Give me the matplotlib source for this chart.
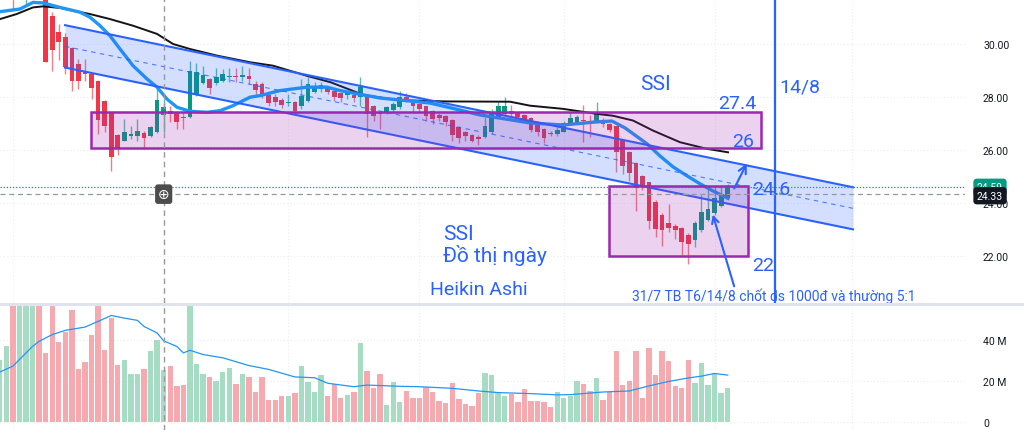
import matplotlib
matplotlib.use("Agg")
import matplotlib.pyplot as plt
import matplotlib.patches as patches
import matplotlib.transforms as mtransforms
import numpy as np

plt.rcParams['font.family'] = ['Roboto', 'DejaVu Sans']

# Heikin Ashi candles (SSI, daily)
ha_open = [31.9, 32.1, 32.3, 32.1, 32.3, 32.5, 32.8, 32.5, 31.07, 30.44,
           30.25, 29.84, 29.25, 28.93, 28.87, 28.62, 27.86, 27.42, 26.57, 26.33,
           26.54, 26.54, 26.64, 26.52, 26.69, 27.32, 27.46, 27.40, 27.26, 27.23,
           28.11, 28.52, 28.68, 28.52, 28.62, 28.74, 28.77, 28.77, 28.80, 28.49,
           28.49, 28.08, 28.01, 27.90, 27.77, 27.82, 27.65, 27.86, 28.20, 28.30,
           28.37, 28.24, 28.14, 28.09, 28.08, 27.99, 27.99, 27.67, 27.42, 27.40,
           27.52, 27.61, 28.01, 27.80, 27.74, 27.65, 27.46, 27.32, 27.27, 27.14,
           26.86, 26.67, 26.58, 26.48, 26.48, 26.67, 27.23, 27.36, 27.48, 27.40,
           27.32, 27.20, 26.98, 26.79, 26.64, 26.60, 26.69, 26.98, 27.02, 27.11,
           27.08, 27.04, 27.14, 26.99, 26.89, 26.39, 25.91, 25.51, 25.01, 24.78,
           24.05, 23.55, 23.25, 23.14, 23.04, 22.79, 22.58, 22.96, 23.37, 23.62,
           23.90, 24.18]
ha_high = [32.5, 32.7, 32.6, 32.8, 33.0, 33.3, 33.0, 32.6, 31.2, 30.75,
           30.4, 29.9, 29.45, 29.43, 28.9, 28.65, 27.9, 27.42, 26.6, 27.17,
           26.92, 27.17, 26.7, 26.92, 28.30, 27.92, 27.67, 27.45, 27.42, 29.37,
           29.3, 29.18, 28.7, 29.08, 29.05, 29.08, 29.1, 29.18, 29.1, 28.62,
           28.55, 28.1, 28.12, 27.95, 28.11, 27.85, 28.68, 28.74, 28.55, 28.55,
           28.4, 28.28, 28.16, 28.24, 28.2, 28.74, 28.05, 27.7, 27.45, 27.65,
           27.8, 28.21, 28.15, 27.85, 27.76, 27.66, 27.5, 27.4, 27.3, 27.15,
           26.9, 26.7, 26.6, 26.55, 27.23, 27.55, 27.80, 27.99, 27.68, 27.45,
           27.35, 27.25, 27.0, 26.82, 26.72, 26.86, 27.10, 27.42, 27.30, 27.70,
           27.3, 27.80, 27.2, 27.0, 26.9, 26.4, 25.95, 25.55, 25.05, 24.8,
           24.1, 23.6, 23.96, 23.2, 23.1, 22.85, 23.3, 24.28, 24.53, 24.65,
           24.65, 24.72]
ha_low = [31.8, 31.9, 31.32, 31.9, 31.51, 32.3, 31.9, 29.31, 28.99, 29.40,
          28.87, 28.21, 28.30, 28.62, 27.92, 26.6, 26.68, 25.19, 25.79, 26.33,
          26.42, 26.35, 26.04, 26.5, 26.65, 26.68, 27.04, 26.79, 26.79, 27.2,
          28.05, 28.5, 28.11, 28.45, 28.55, 28.55, 28.55, 28.62, 28.5, 28.09,
          27.95, 27.67, 27.67, 27.6, 27.67, 27.32, 27.55, 27.8, 28.15, 28.2,
          28.1, 27.86, 27.8, 27.93, 27.8, 27.67, 26.48, 27.11, 26.79, 27.35,
          27.4, 27.55, 27.8, 27.45, 27.42, 27.11, 26.98, 27.1, 26.92, 26.35,
          26.26, 26.35, 26.3, 26.19, 26.45, 26.6, 27.2, 27.3, 27.2, 27.1,
          27.05, 26.66, 26.54, 26.26, 26.54, 26.54, 26.66, 26.95, 27.0, 26.31,
          26.48, 27.0, 26.85, 26.66, 25.16, 25.09, 24.84, 23.71, 24.5, 23.02,
          22.70, 22.39, 22.9, 22.64, 22.04, 21.70, 22.35, 22.9, 23.3, 23.55,
          23.85, 24.1]
ha_close = [32.3, 32.5, 31.9, 32.6, 32.8, 33.1, 32.3, 29.31, 29.77, 30.06,
            29.12, 28.62, 28.60, 28.87, 28.33, 27.14, 26.92, 25.75, 26.06, 26.67,
            26.60, 26.70, 26.44, 26.86, 27.90, 27.61, 27.36, 27.04, 27.22, 28.99,
            28.93, 28.83, 28.34, 28.74, 28.86, 28.78, 28.75, 28.82, 28.66, 28.28,
            28.08, 27.77, 27.80, 27.71, 27.80, 27.46, 28.05, 28.49, 28.43, 28.45,
            28.20, 27.99, 27.95, 28.14, 27.95, 28.37, 27.36, 27.27, 27.36, 27.61,
            27.74, 27.99, 27.92, 27.65, 27.55, 27.27, 27.17, 27.20, 27.04, 26.57,
            26.44, 26.52, 26.35, 26.42, 26.89, 27.42, 27.65, 27.65, 27.36, 27.23,
            27.17, 26.77, 26.67, 26.44, 26.60, 26.77, 27.01, 27.22, 27.25, 27.08,
            27.02, 27.35, 26.98, 26.77, 25.94, 25.38, 25.13, 24.55, 24.63, 23.30,
            23.02, 22.96, 23.04, 22.99, 22.54, 22.43, 23.23, 23.67, 23.77, 24.18,
            24.34, 24.59]

# volume, millions of shares
volume = [30.4, 37.2, 60, 62, 66, 64, 61, 33.7, 60, 39,
          43.9, 55, 25.9, 29.4, 42.6, 62, 35, 50.9, 28, 30.4,
          23.4, 23.4, 25.9, 34.5, 40.2, 25.2, 27.2, 17.6, 17.9, 60,
          28.6, 23.4, 21.8, 20, 24.2, 26.2, 18.5, 23.4, 21.8, 14.8,
          22.1, 10.7, 10.7, 12.4, 12.7, 14, 27.6, 19.5, 14.8, 23.1,
          12.4, 18.7, 11.7, 13, 14.8, 38.5, 24.7, 16.6, 23.4, 8.3,
          19.3, 9.9, 15.1, 11.5, 11.5, 16.9, 14.8, 10.2, 9.1, 18.9,
          11.2, 8.8, 7.5, 14, 24.1, 23.1, 14.8, 12.5, 13.7, 9.6,
          16.3, 10.2, 10.2, 9.6, 7, 14.6, 11.7, 12.8, 19.8, 18.4,
          15, 21.6, 10.6, 14.6, 34.8, 17.9, 19.8, 34.5, 11.5, 36.3,
          23.1, 34.5, 29.6, 17.6, 16.4, 30.4, 18.9, 28.9, 17.9, 24.1,
          14, 16.4]

# volume moving average (read at bar positions)
vol_ma_bar = [0, 2, 5, 6, 8, 10, 13, 15, 17, 19, 21, 22, 24, 25, 27, 28, 29, 31,
              34, 38, 41, 45, 48, 50, 54, 56, 61, 64, 69, 73, 76, 81, 85, 87, 92,
              96, 99, 102, 105, 107, 109, 111]
vol_ma = [24.4, 27.3, 37, 39.5, 42.8, 44.9, 46.5, 49.3, 52.2, 50.9, 49.8, 46.8,
          43.6, 39.7, 37, 33.8, 35.1, 33, 31.4, 27.6, 25.7, 22, 21.6, 18.9, 17.2,
          18, 17.4, 17.2, 16.4, 15.1, 14.3, 13.8, 13.2, 13.3, 14.6, 15.1, 17.6,
          19.8, 21.5, 22.4, 23.7, 22.9]

# price moving averages (fast: light blue, slow: black)
ma_fast_bar = [0.04, 3.09, 5.07, 6.59, 9.19, 12.24, 13.76, 15.29, 16.81, 18.34,
               20.32, 22.45, 23.98, 25.5, 27.03, 29.01, 31.6, 33.59, 35.57, 38.16,
               39.68, 42.73, 46.85, 49.9, 51.88, 55.39, 57.98, 65.61, 69.42, 73.23,
               80.86, 85.89, 91.07, 93.36, 95.34, 98.7, 100.68, 102.66, 104.8,
               106.78, 108.76, 111.05]
ma_fast = [31.22, 31.32, 31.57, 31.55, 31.38, 31.20, 31.01, 30.69, 30.31, 29.81,
           29.18, 28.68, 28.37, 27.92, 27.61, 27.46, 27.42, 27.48, 27.67, 27.99,
           28.05, 28.24, 28.37, 28.37, 28.24, 28.08, 27.96, 27.77, 27.55, 27.32,
           27.02, 26.94, 27.06, 27.09, 26.83, 26.23, 25.77, 25.36, 25.02, 24.72,
           24.45, 24.17]
ma_slow_bar = [0.04, 2.58, 5.07, 6.59, 9.19, 11.17, 13.76, 16.81, 20.32, 23.98,
               26.42, 29.01, 33.13, 38.16, 41.67, 46.8, 50.5, 55.4, 60.6, 68.2,
               77.81, 80.86, 85.89, 91.07, 93.51, 96.56, 99.61, 103.73, 107.85,
               111.05]
ma_slow = [30.94, 31.13, 31.38, 31.42, 31.36, 31.26, 31.13, 30.94, 30.69, 30.38,
           30.00, 29.81, 29.56, 29.31, 29.18, 28.80, 28.55, 28.08, 27.88, 27.83,
           27.82, 27.67, 27.55, 27.36, 27.29, 27.11, 26.73, 26.29, 26.04, 25.91]

# drawings
chan_bar = [9.95, 130.1]
chan_upper = [30.71, 24.59]
chan_lower = [29.11, 23.0]
zone1 = (13.9, 116.1, 26.06, 27.45)   # bar from, bar to, low, high
zone2 = (92.95, 114.1, 22.0, 24.62)
event_bar = 118.2
crosshair_bar = 25
crosshair_price = 24.33
last_close = 24.59
vgrid_bars = [2, 44, 64, 86, 109, 130]

RED = '#f23645'
GREEN = '#089981'
BLUE = '#2962ff'
PURPLE = '#9c27b0'

fig = plt.figure(figsize=(10.24, 4.31), dpi=100)
fig.patch.set_facecolor('white')
W, H = 1024, 431
ax = fig.add_axes([0, (H - 304) / H, 965 / W, 304 / H])
axv = fig.add_axes([0, 0, 965 / W, 124 / H])

x = np.arange(len(ha_close))
o = np.array(ha_open)
c = np.array(ha_close)
up = c >= o
cols = np.where(up, GREEN, RED)

for a in (ax, axv):
    a.set_xlim(0.04, 147.18)
    for s in a.spines.values():
        s.set_visible(False)
    a.set_xticks([])
    for b in vgrid_bars:
        a.axvline(b, color='#e9ecf2', lw=0.8, ls=(0, (1, 2)), zorder=0)
    a.axvline(crosshair_bar, color='#9598a1', lw=1.0, ls=(0, (4, 3)), zorder=6)

ax.set_ylim(20.22, 31.698)
axv.set_ylim(-4.08, 56.86)

# grid + ticks
ax.set_yticks([22, 24, 26, 28, 30])
ax.set_yticklabels(['22.00', '24.00', '26.00', '28.00', '30.00'])
axv.set_yticks([0, 20, 40])
axv.set_yticklabels(['0', '20 M', '40 M'])
for a in (ax, axv):
    a.yaxis.tick_right()
    a.tick_params(axis='y', length=0, pad=13, labelsize=7.5, labelcolor='#131722')
    a.grid(axis='y', color='#e9ecf2', lw=0.8, ls=(0, (1, 2)))
    a.set_axisbelow(True)
    for lab in a.get_yticklabels():
        lab.set_horizontalalignment('left')

# candles
ax.vlines(x, ha_low, ha_high, colors=cols, lw=1.0, alpha=0.65, zorder=2)
body_lo = np.minimum(o, c)
body_h = np.maximum(np.abs(c - o), 0.04)
ax.bar(x, body_h, bottom=body_lo, width=0.72, color=cols, lw=0, zorder=3)

# moving averages
ax.plot(ma_slow_bar, ma_slow, color='#131313', lw=1.4, zorder=4)
ax.plot(ma_fast_bar, ma_fast, color='#2196f3', lw=2.4, zorder=4, solid_capstyle='round')

# channel
ax.fill_between(chan_bar, chan_lower, chan_upper, color=BLUE, alpha=0.2, lw=0, zorder=5)
ax.plot(chan_bar, chan_upper, color=BLUE, lw=1.5, zorder=5)
ax.plot(chan_bar, chan_lower, color=BLUE, lw=1.5, zorder=5)
ax.plot(chan_bar, [(u + l) / 2 for u, l in zip(chan_upper, chan_lower)],
        color=BLUE, lw=0.8, ls=(0, (4, 4)), alpha=0.8, zorder=5)

# zones
for z in (zone1, zone2):
    ax.add_patch(patches.Rectangle((z[0], z[2]), z[1] - z[0], z[3] - z[2],
                                   facecolor=(156 / 255, 39 / 255, 176 / 255, 0.2),
                                   edgecolor=PURPLE, lw=1.8, zorder=5))

# event line
ax.axvline(event_bar, color=BLUE, lw=1.6, zorder=5)

# crosshair / last price lines
ax.axhline(crosshair_price, color='#9598a1', lw=0.9, ls=(0, (4, 3)), zorder=6)
ax.axhline(last_close, color=GREEN, lw=0.9, ls=(0, (1, 1.5)), zorder=6)
ax.text(crosshair_bar, crosshair_price, '\u2295', color='white', fontsize=10,
        family='DejaVu Sans', ha='center', va='center', zorder=9,
        bbox=dict(boxstyle='round,pad=0.2', fc='#4c4c4c', ec='none'))

tr = mtransforms.blended_transform_factory(ax.transAxes, ax.transData)
ax.text(1 + 12 / 965, last_close, '%.2f' % last_close, transform=tr, color='white',
        fontsize=7.5, va='center', ha='left', zorder=10, clip_on=False,
        bbox=dict(boxstyle='round,pad=0.35', fc=GREEN, ec='none'))
ax.text(1 + 12 / 965, crosshair_price - 0.06, '%.2f' % crosshair_price, transform=tr,
        color='white', fontsize=7.5, va='center', ha='left', zorder=11, clip_on=False,
        bbox=dict(boxstyle='round,pad=0.35', fc='#131722', ec='none'))

# labels
tk = dict(color=BLUE, zorder=8, va='baseline', ha='left')
ax.text(97.6, 28.30, 'SSI', fontsize=15, **tk)
ax.text(118.9, 28.20, '14/8', fontsize=14, **tk)
ax.text(109.6, 27.57, '27.4', fontsize=14, **tk)
ax.text(111.6, 26.13, '26', fontsize=14, **tk)
ax.text(114.7, 24.34, '24.6', fontsize=14, **tk)
ax.text(114.7, 21.47, '22', fontsize=14, **tk)
ax.text(67.6, 22.62, 'SSI', fontsize=15, **tk)
ax.text(67.6, 21.80, 'Đồ thị ngày', fontsize=15, **tk)
ax.text(65.6, 20.57, 'Heikin Ashi', fontsize=14, **tk)
ax.text(96.4, 20.35, '31/7 TB T6/14/8 chốt ds 1000đ và thường 5:1', fontsize=10,
        clip_on=False, **tk)

ax.annotate('', xy=(108.6, 23.66), xytext=(112.1, 20.75),
            arrowprops=dict(arrowstyle='->', color=BLUE, lw=1.5, mutation_scale=12),
            zorder=8)
ax.annotate('', xy=(114.1, 25.58), xytext=(111.8, 24.45),
            arrowprops=dict(arrowstyle='->', color=BLUE, lw=1.5, mutation_scale=14),
            zorder=8)

# volume
vcols = np.where(up, '#a6dcc4', '#f7a9b0')
axv.bar(x, volume, width=0.82, color=vcols, lw=0, zorder=2)
axv.plot(vol_ma_bar, vol_ma, color='#2196f3', lw=0.9, zorder=3)

# pane separator
fig.add_artist(plt.Line2D([0, 1], [1 - 305 / H, 1 - 305 / H], transform=fig.transFigure,
                          color='#e0e3eb', lw=2.2))

fig.savefig('out.png', dpi=100, facecolor='white')
